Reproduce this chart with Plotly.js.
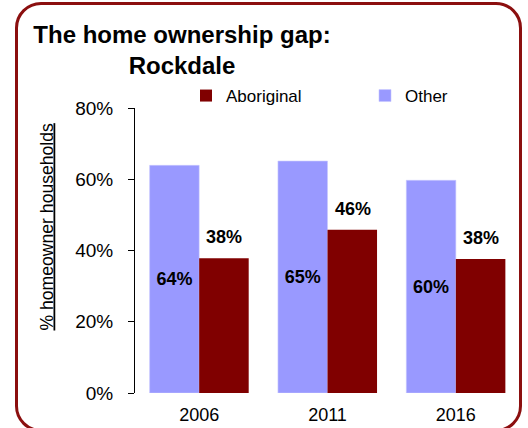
<!DOCTYPE html>
<html>
<head>
<meta charset="utf-8">
<script src="https://cdn.plot.ly/plotly-3.0.1.min.js"></script>
<style>
  html, body { margin: 0; padding: 0; background: #ffffff; }
  #wrap { position: relative; width: 528px; height: 428px; overflow: hidden; }
  #chart { position: absolute; left: 0; top: 0; width: 528px; height: 428px; }
  #frame { position: absolute; left: 15px; top: 2px; width: 501px; height: 424px;
           border: 3px solid #8b0f0f; border-radius: 26px; pointer-events: none; }
</style>
</head>
<body>
<div id="wrap">
  <div id="chart"></div>
  <div id="frame"></div>
</div>
<script>
const years = ['2006', '2011', '2016'];
const otherValues = [63.9, 65.1, 59.7];
const aboriginalValues = [37.8, 45.8, 37.6];
const yTickValues = [0, 20, 40, 60, 80];
const yTickLabels = ['0%', '20%', '40%', '60%', '80%'];
const yAxisTitle = '% homeowner households';

const FONT = 'Liberation Sans, Arial, sans-serif';

const traces = [
  {
    type: 'bar', name: 'Other', x: years, y: otherValues,
    marker: { color: '#9999ff', line: { color: '#c8c8ff', width: 0.6 } },
    text: otherValues.map(v => Math.round(v) + '%'),
    textposition: 'inside', insidetextanchor: 'middle',
    insidetextfont: { family: FONT, size: 18, color: '#000000', weight: 'bold' },
    hoverinfo: 'skip'
  },
  {
    type: 'bar', name: 'Aboriginal', x: years, y: aboriginalValues,
    marker: { color: '#800000' },
    hoverinfo: 'skip'
  }
];

// category index positions (numeric) so the category axis is not disturbed
const annotations = years.map((yr, i) => ({
  x: i, y: aboriginalValues[i], xref: 'x', yref: 'y',
  text: '<b>' + Math.round(aboriginalValues[i]) + '%</b>',
  showarrow: false, xanchor: 'center', yanchor: 'bottom',
  xshift: 25, yshift: 9,
  font: { family: FONT, size: 18, color: '#000000' }
}));

annotations.push({
  xref: 'paper', yref: 'paper',
  x: (46 - 135) / 385, y: (393 - 226.5) / 285,
  xanchor: 'center', yanchor: 'middle', textangle: -90,
  text: '<span style="text-decoration:underline">' + yAxisTitle + '</span>',
  showarrow: false,
  font: { family: FONT, size: 17.6, color: '#000000' }
});

const layout = {
  width: 528, height: 428,
  paper_bgcolor: 'rgba(0,0,0,0)', plot_bgcolor: 'rgba(0,0,0,0)',
  margin: { l: 135, r: 8, t: 108, b: 35, pad: 0, autoexpand: false },
  font: { family: FONT, color: '#000000' },
  title: {
    text: 'The home ownership gap:<br>Rockdale',
    font: { family: FONT, size: 24, weight: 'bold', color: '#000000' },
    xref: 'container', x: 182 / 528, xanchor: 'center',
    yref: 'container', y: 1 - 43 / 428, yanchor: 'top'
  },
  barmode: 'group', bargap: 0.228, bargroupgap: 0,
  showlegend: true,
  legend: {
    orientation: 'h', traceorder: 'reversed',
    xref: 'paper', yref: 'container',
    x: (186 - 135) / 385, xanchor: 'left', y: 1 - 78 / 428, yanchor: 'top',
    entrywidth: 134, entrywidthmode: 'pixels',
    font: { family: FONT, size: 17, color: '#000000' },
    bgcolor: 'rgba(0,0,0,0)', itemclick: false, itemdoubleclick: false
  },
  xaxis: {
    type: 'category', showline: false, ticks: '', showgrid: false, zeroline: false,
    automargin: false, ticklabelstandoff: 9,
    tickfont: { family: FONT, size: 18, color: '#000000' }
  },
  yaxis: {
    range: [0, 80], autorange: false, tickvals: yTickValues, ticktext: yTickLabels,
    showgrid: false, zeroline: false, automargin: false,
    showline: true, linecolor: '#000000', linewidth: 1,
    ticks: 'outside', ticklen: 6, tickcolor: '#000000', tickwidth: 1,
    ticklabelstandoff: 11,
    tickfont: { family: FONT, size: 19, color: '#000000' }
  },
  annotations: annotations
};

Plotly.newPlot('chart', traces, layout, { staticPlot: true, displayModeBar: false });
</script>
</body>
</html>
